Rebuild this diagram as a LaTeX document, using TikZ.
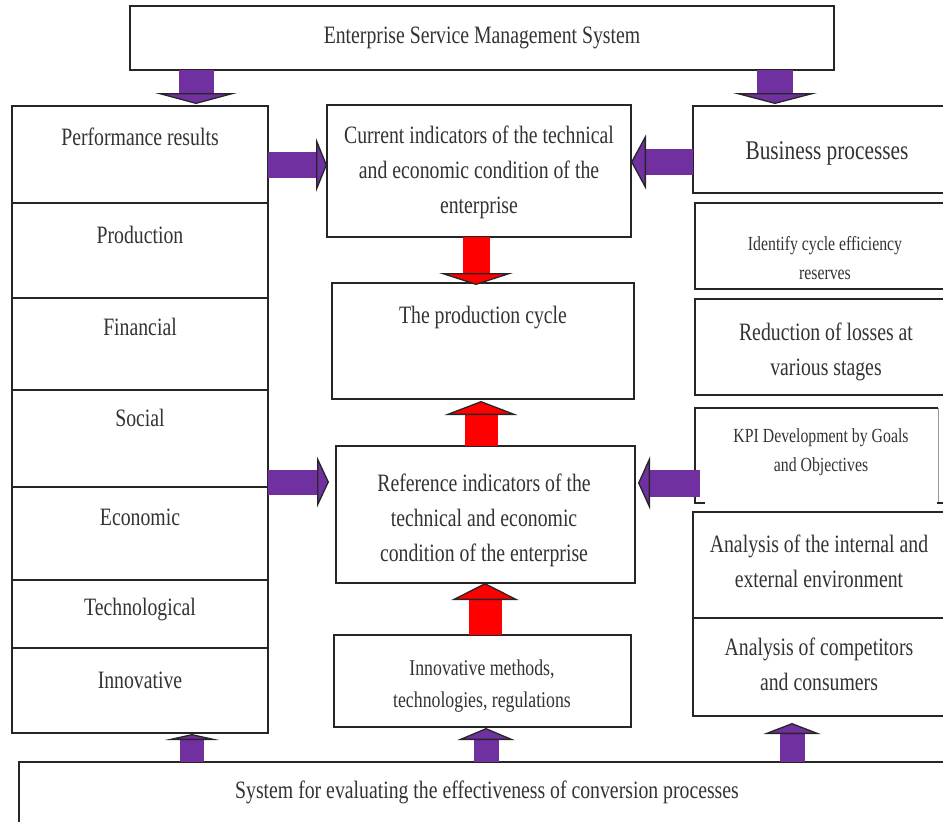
\documentclass[tikz,border=0pt]{standalone}
\usepackage{fontspec}
\setmainfont{Liberation Serif}[FakeStretch=0.79]
\usetikzlibrary{arrows.meta,calc}
\definecolor{purp}{HTML}{7030A0}
\definecolor{redA}{HTML}{FF0000}
\newcommand{\mkbox}[5]{\node[box, minimum width={#4-#2}, minimum height={#5-#3}] (#1) at ({(#2+#4)/2},{(#3+#5)/2}) {};}
\begin{document}
\begin{tikzpicture}[x=1pt,y=-1pt,
  box/.style={draw=black!85, line width=1.6pt, fill=white, rectangle, inner sep=0pt, outer sep=0pt},
  boxline/.style={draw=black!85, line width=1.6pt},
  txt/.style={align=center, text=black!80, font=\fontsize{25}{35}\selectfont, inner sep=0pt},
  mtxt/.style={align=center, text=black!80, font=\fontsize{22.5}{32}\selectfont, inner sep=0pt},
  btxt/.style={align=center, text=black!80, font=\fontsize{27}{35}\selectfont, inner sep=0pt},
  stxt/.style={align=center, text=black!80, font=\fontsize{20}{28.5}\selectfont, inner sep=0pt},
  blk/.style n args={4}{draw=#1, line width=#2, line cap=butt,
     -{Triangle[width=#3, length=#4, fill=#1, color=black!85, line width=1.3pt]}}
]
\useasboundingbox (0,0) rectangle (943,822);
\clip (0,0) rectangle (943,822);

% top box
\mkbox{esm}{130}{6}{834}{70}
\node[txt] (esmt) at (482,38) {Enterprise Service Management System};

% left column
\mkbox{perf}{12}{106}{268}{203}
\mkbox{prod}{12}{203}{268}{298}
\mkbox{fin}{12}{298}{268}{390}
\mkbox{soc}{12}{390}{268}{487}
\mkbox{eco}{12}{487}{268}{580}
\mkbox{tech}{12}{580}{268}{648}
\mkbox{inno}{12}{648}{268}{733}
\node[txt] (perft) at (140,137) {Performance results};
\node[txt] (prodt) at (140,235) {Production};
\node[txt] (fint) at (140,327) {Financial};
\node[txt] (soct) at (140,418) {Social};
\node[txt] (ecot) at (140,517) {Economic};
\node[txt] (techt) at (140,610) {Technological};
\node[txt] (innot) at (140,680) {Innovative};

% middle column
\mkbox{cur}{327}{105}{631}{237}
\node[txt] (curt) at (479,172) {Current indicators of the technical\\and economic condition of the\\enterprise};
\mkbox{pc}{332}{283}{634}{399}
\node[txt] (pct) at (483,318) {The production cycle};
\mkbox{ref}{336}{446}{635}{583}
\node[txt] (reft) at (484,520) {Reference indicators of the\\technical and economic\\condition of the enterprise};
\mkbox{im}{334}{635}{631}{727}
\node[mtxt] (imt) at (482,686) {Innovative methods,\\technologies, regulations};

% right column
\mkbox{bp}{693}{106}{960}{193}
\node[btxt] (bpt) at (827,153) {Business processes};
\mkbox{idf}{695}{203}{960}{289}
\node[stxt] (idft) at (825,258) {Identify cycle efficiency\\reserves};
\mkbox{red}{695}{299}{960}{395}
\node[txt] (redt) at (826,352) {Reduction of losses at\\various stages};
\node[inner sep=0pt, outer sep=0pt, minimum width=243, minimum height=95] (kpi) at (816.5,455.5) {};
\draw[boxline] ([xshift=10pt]kpi.south west) -- (kpi.south west) -- (kpi.north west) -- (kpi.north east);
\draw[draw=black!40, line width=1pt] (kpi.north east) -- (kpi.south east);
\draw[boxline] ([xshift=-1pt]kpi.south east) -- ([xshift=6pt]kpi.south east);
\node[stxt] (kpit) at (821,452) {KPI Development by Goals\\and Objectives};
\mkbox{ana}{693}{512}{960}{618}
\node[txt] (anat) at (819,561) {Analysis of the internal and\\external environment};
\mkbox{comp}{693}{618}{960}{716}
\node[txt] (compt) at (819,664) {Analysis of competitors\\and consumers};

% bottom box
\mkbox{sys}{19}{762}{960}{840}
\node[txt] (syst) at (487,792) {System for evaluating the effectiveness of conversion processes};

% helper coordinates
\coordinate (x1) at (196,0);
\coordinate (x2) at (775,0);
\coordinate (x3) at (476,0);
\coordinate (x4) at (481,0);
\coordinate (x5) at (485,0);
\coordinate (x6) at (192,0);
\coordinate (x7) at (486,0);
\coordinate (x8) at (792,0);
\coordinate (y1) at (0,165);
\coordinate (y2) at (0,162);
\coordinate (y3) at (0,482);
\coordinate (y4) at (0,483);

% arrows
\draw[blk={purp}{35pt}{82pt}{11pt}] (esm.south -| x1) -- ([yshift=2pt]perf.north -| x1);
\draw[blk={purp}{36pt}{84pt}{11pt}] (esm.south -| x2) -- ([yshift=2pt]bp.north -| x2);
\draw[blk={purp}{26pt}{54pt}{11pt}] (perf.east |- y1) -- (cur.west |- y1);
\draw[blk={purp}{26pt}{55pt}{15pt}] (bp.west |- y2) -- (cur.east |- y2);
\draw[blk={redA}{27pt}{74pt}{12pt}] (cur.south -| x3) -- ([yshift=-2pt]pc.north -| x3);
\draw[blk={redA}{33pt}{73pt}{14pt}] (ref.north -| x4) -- ([yshift=-2pt]pc.south -| x4);
\draw[blk={purp}{25pt}{51pt}{12pt}] (soc.east |- y3) -- ([xshift=-7pt]ref.west |- y3);
\draw[blk={purp}{27pt}{53pt}{12pt}] ([xshift=5pt]kpi.west |- y4) -- ([xshift=3pt]ref.east |- y4);
\draw[blk={redA}{33pt}{67pt}{17pt}] (im.north -| x5) -- (ref.south -| x5);
\draw[blk={purp}{24pt}{54pt}{6pt}] (sys.north -| x6) -- ([yshift=-1pt]inno.south -| x6);
\draw[blk={purp}{25pt}{57pt}{12pt}] (sys.north -| x7) -- ([yshift=-1pt]im.south -| x7);
\draw[blk={purp}{25pt}{57pt}{11pt}] (sys.north -| x8) -- ([yshift=-7pt]comp.south -| x8);
\end{tikzpicture}
\end{document}
